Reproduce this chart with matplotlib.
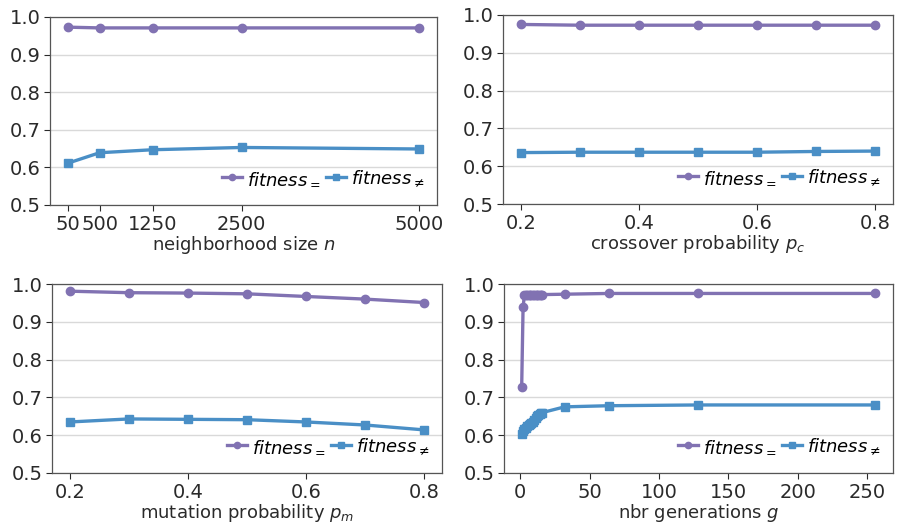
import matplotlib
matplotlib.use("Agg")
import matplotlib.pyplot as plt

plt.rcParams['mathtext.fontset'] = 'dejavusans'

PURPLE = "#8172b2"
BLUE = "#4a8fc6"

# neighborhood size
n_vals = [50, 500, 1250, 2500, 5000]
n_eq = [0.973, 0.971, 0.971, 0.971, 0.971]
n_ne = [0.611, 0.639, 0.647, 0.653, 0.649]

# crossover probability
pc_vals = [0.2, 0.3, 0.4, 0.5, 0.6, 0.7, 0.8]
pc_eq = [0.975, 0.973, 0.973, 0.973, 0.973, 0.973, 0.973]
pc_ne = [0.636, 0.637, 0.637, 0.637, 0.637, 0.639, 0.640]

# mutation probability
pm_vals = [0.2, 0.3, 0.4, 0.5, 0.6, 0.7, 0.8]
pm_eq = [0.981, 0.977, 0.976, 0.974, 0.967, 0.960, 0.951]
pm_ne = [0.635, 0.643, 0.642, 0.641, 0.635, 0.627, 0.614]

# number of generations
g_vals = [1, 2, 3, 4, 5, 6, 7, 8, 9, 10, 11, 12, 13, 14, 15, 16, 32, 64, 128, 256]
g_eq = [0.727, 0.938, 0.972, 0.972, 0.972, 0.972, 0.972, 0.972, 0.972, 0.972,
        0.972, 0.972, 0.972, 0.972, 0.972, 0.972, 0.973, 0.975, 0.975, 0.975]
g_ne = [0.603, 0.611, 0.616, 0.620, 0.624, 0.627, 0.629, 0.631, 0.636, 0.641,
        0.646, 0.650, 0.654, 0.656, 0.658, 0.660, 0.675, 0.678, 0.680, 0.680]

panels = [
    (n_vals, n_eq, n_ne, "neighborhood size $n$", n_vals),
    (pc_vals, pc_eq, pc_ne, "crossover probability $p_c$", [0.2, 0.4, 0.6, 0.8]),
    (pm_vals, pm_eq, pm_ne, "mutation probability $p_m$", [0.2, 0.4, 0.6, 0.8]),
    (g_vals, g_eq, g_ne, "nbr generations $g$", [0, 50, 100, 150, 200, 250]),
]

# axes boxes in pixels (left, top, right, bottom)
boxes = [(50, 17, 437, 205), (503, 15, 893, 204), (52, 284, 442, 473), (504, 284, 893, 473)]
W, H = 898, 524

fig = plt.figure(figsize=(W / 100, H / 100), dpi=100)

for (x, eq, ne, xlabel, xticks), (l, t, r, b) in zip(panels, boxes):
    ax = fig.add_axes([l / W, 1 - b / H, (r - l) / W, (b - t) / H])
    ax.plot(x, eq, color=PURPLE, marker="o", markersize=6, linewidth=2.4,
            label=r"$fitness_=$")
    ax.plot(x, ne, color=BLUE, marker="s", markersize=6, linewidth=2.4,
            label=r"$fitness_{\neq}$")
    ax.set_ylim(0.5, 1.0)
    ax.set_yticks([0.5, 0.6, 0.7, 0.8, 0.9, 1.0])
    ax.set_xticks(xticks)
    ax.yaxis.grid(True, color="#d9d9d9", linewidth=1.0)
    ax.set_axisbelow(True)
    for s in ax.spines.values():
        s.set_color("#555555")
        s.set_linewidth(0.9)
    ax.tick_params(labelsize=14, colors="#2a2a2a", length=4, width=0.8, pad=3)
    ax.set_xlabel(xlabel, fontsize=13, color="#2a2a2a", labelpad=0)
    ax.legend(loc="lower right", ncol=2, frameon=False, fontsize=13,
              handlelength=1.1, handletextpad=0.3, columnspacing=0.3,
              borderaxespad=0.3, markerscale=0.75, bbox_to_anchor=(1.0, 0.02))

fig.savefig("out.png", dpi=100)
